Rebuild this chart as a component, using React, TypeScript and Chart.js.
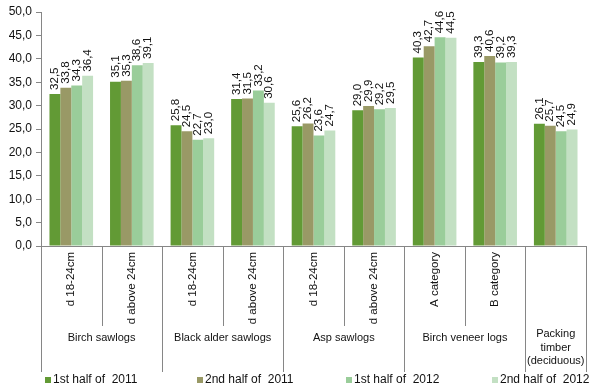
import React, { useEffect, useRef } from 'react';
import { Chart, registerables } from 'chart.js';

Chart.register(...registerables);

// ---- data ----
const categories = [
  'd 18-24cm', 'd above 24cm',
  'd 18-24cm', 'd above 24cm',
  'd 18-24cm', 'd above 24cm',
  'A category', 'B category',
  '',
];
const groupNames: string[][] = [
  ['Birch sawlogs'],
  ['Black alder sawlogs'],
  ['Asp sawlogs'],
  ['Birch veneer logs'],
  ['Packing', 'timber', '(deciduous)'],
];
const groupSpans = [2, 2, 2, 2, 1];

const seriesNames = ['1st half of  2011', '2nd half of  2011', '1st half of  2012', '2nd half of  2012'];
const h1_2011 = [32.5, 35.1, 25.8, 31.4, 25.6, 29.0, 40.3, 39.3, 26.1];
const h2_2011 = [33.8, 35.3, 24.5, 31.5, 26.2, 29.9, 42.7, 40.6, 25.7];
const h1_2012 = [34.3, 38.6, 22.7, 33.2, 23.6, 29.2, 44.6, 39.2, 24.5];
const h2_2012 = [36.4, 39.1, 23.0, 30.6, 24.7, 29.5, 44.5, 39.3, 24.9];

const yMin = 0;
const yMax = 50;
const yStep = 5;

const seriesColors = ['#629a35', '#999966', '#9acd9a', '#c3e0c3'];

const FONT = '"Liberation Sans", Arial, sans-serif';
const AXIS_COLOR = '#868686';
const TEXT_COLOR = '#111';
const fmt = (v: number) => v.toFixed(1).replace('.', ',');

const decorPlugin = {
  id: 'decor',
  afterDatasetsDraw(chart: any) {
    const ctx = chart.ctx;
    ctx.save();
    ctx.font = `11.5px ${FONT}`;
    ctx.fillStyle = TEXT_COLOR;
    ctx.textAlign = 'left';
    ctx.textBaseline = 'middle';
    chart.data.datasets.forEach((ds: any, di: number) => {
      const meta = chart.getDatasetMeta(di);
      meta.data.forEach((el: any, i: number) => {
        ctx.save();
        ctx.translate(el.x, el.y - 4);
        ctx.rotate(-Math.PI / 2);
        ctx.fillText(fmt(ds.data[i]), 0, 0);
        ctx.restore();
      });
    });
    ctx.restore();
  },
  afterDraw(chart: any) {
    const ctx = chart.ctx;
    const x = chart.scales.x;
    const area = chart.chartArea;
    const w = x.getPixelForValue(1) - x.getPixelForValue(0);
    const boundary = (i: number) => x.getPixelForValue(i) - w / 2;
    const shortEnd = 326;
    const longEnd = 372;

    const groupStarts: number[] = [];
    let acc = 0;
    groupSpans.forEach((s) => { groupStarts.push(acc); acc += s; });
    const isGroupBoundary = (i: number) => i === acc || groupStarts.includes(i);

    ctx.save();
    ctx.strokeStyle = AXIS_COLOR;
    ctx.lineWidth = 1;
    for (let i = 0; i <= categories.length; i++) {
      const px = Math.round(boundary(i)) + 0.5;
      ctx.beginPath();
      ctx.moveTo(px, area.bottom);
      ctx.lineTo(px, isGroupBoundary(i) ? longEnd : shortEnd);
      ctx.stroke();
    }

    ctx.font = `11px ${FONT}`;
    ctx.fillStyle = TEXT_COLOR;
    ctx.textAlign = 'center';
    ctx.textBaseline = 'middle';
    groupNames.forEach((lines, gi) => {
      const s = groupStarts[gi];
      const e = s + groupSpans[gi];
      const cx = (boundary(s) + boundary(e)) / 2;
      const y0 = lines.length === 1 ? 338 : 334;
      lines.forEach((ln, li) => ctx.fillText(ln, cx, y0 + li * 13.5));
    });

    const legendX = [45, 197, 346, 492];
    const ly = 380;
    ctx.font = `12px ${FONT}`;
    ctx.textAlign = 'left';
    chart.data.datasets.forEach((ds: any, di: number) => {
      ctx.fillStyle = ds.backgroundColor;
      ctx.fillRect(legendX[di], ly - 3, 6, 6);
      ctx.fillStyle = TEXT_COLOR;
      ctx.fillText(ds.label, legendX[di] + 8, ly);
    });
    ctx.restore();
  },
};

export default function App() {
  const ref = useRef<HTMLCanvasElement | null>(null);

  useEffect(() => {
    document.body.style.margin = '0';
    const canvas = ref.current;
    if (!canvas) return;
    const series = [h1_2011, h2_2011, h1_2012, h2_2012];
    const chart = new Chart(canvas, {
      type: 'bar',
      data: {
        labels: categories,
        datasets: series.map((d, i) => ({
          label: seriesNames[i],
          data: d,
          backgroundColor: seriesColors[i],
          borderWidth: 0,
          categoryPercentage: 0.72,
          barPercentage: 1.0,
        })),
      },
      options: {
        animation: false,
        responsive: false,
        maintainAspectRatio: false,
        devicePixelRatio: 1,
        layout: { padding: { top: 12, right: 7, left: 0, bottom: 0 } },
        plugins: {
          legend: { display: false },
          tooltip: { enabled: false },
        },
        scales: {
          x: {
            grid: { display: false, drawTicks: false, tickLength: 0 },
            border: { display: true, color: AXIS_COLOR },
            ticks: {
              autoSkip: false,
              maxRotation: 90,
              minRotation: 90,
              padding: 6,
              color: TEXT_COLOR,
              font: { family: FONT, size: 11.5 },
            },
            afterFit: (s: any) => { s.height = 142; },
          },
          y: {
            min: yMin,
            max: yMax,
            grid: { display: true, drawOnChartArea: false, drawTicks: true, tickLength: 5, color: AXIS_COLOR },
            border: { display: true, color: AXIS_COLOR },
            ticks: {
              stepSize: yStep,
              padding: 4,
              color: TEXT_COLOR,
              font: { family: FONT, size: 12 },
              callback: (v: any) => fmt(Number(v)),
            },
            afterFit: (s: any) => { s.width = 41; },
          },
        },
      },
      plugins: [decorPlugin],
    });
    return () => chart.destroy();
  }, []);

  return (
    <div style={{ position: 'fixed', left: 0, top: 0, width: 593, height: 388, background: '#fff' }}>
      <canvas ref={ref} width={593} height={388} style={{ width: 593, height: 388 }} />
    </div>
  );
}
